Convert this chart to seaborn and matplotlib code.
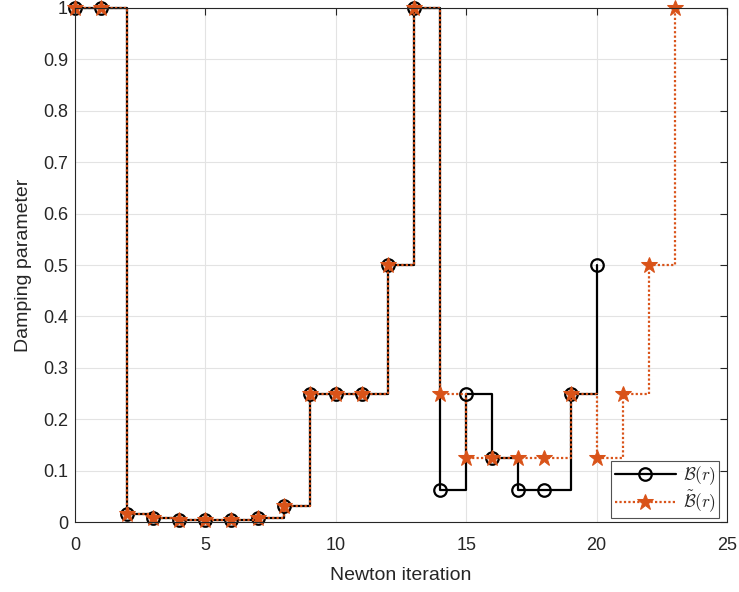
import pandas as pd
import matplotlib.pyplot as plt
import seaborn as sns

iter_b = list(range(0, 21))
damp_b = [1, 1, 0.015625, 0.0078125, 0.00390625, 0.00390625, 0.00390625,
          0.0078125, 0.03125, 0.25, 0.25, 0.25, 0.5, 1,
          0.0625, 0.25, 0.125, 0.0625, 0.0625, 0.25, 0.5]

iter_bt = list(range(0, 24))
damp_bt = [1, 1, 0.015625, 0.0078125, 0.00390625, 0.00390625, 0.00390625,
           0.0078125, 0.03125, 0.25, 0.25, 0.25, 0.5, 1,
           0.25, 0.125, 0.125, 0.125, 0.125, 0.25, 0.125, 0.25, 0.5, 1]

sns.set_style("white")
plt.rcParams['font.family'] = ['Liberation Sans', 'DejaVu Sans']
plt.rcParams['mathtext.fontset'] = 'cm'

orange = "#D95319"

fig = plt.figure(figsize=(7.39, 5.92), dpi=100)
ax = fig.add_axes([0.1015, 0.1182, 0.8823, 0.8683])

df_b = pd.DataFrame({"it": iter_b, "d": damp_b})
df_bt = pd.DataFrame({"it": iter_bt, "d": damp_bt})

sns.lineplot(data=df_b, x="it", y="d", ax=ax, drawstyle="steps-post",
             color="black", linewidth=1.6, marker="o", markersize=9,
             markerfacecolor="none", markeredgecolor="black",
             markeredgewidth=1.6, label=r"$\mathcal{B}(r)$", clip_on=False)
sns.lineplot(data=df_bt, x="it", y="d", ax=ax, drawstyle="steps-post",
             color=orange, linewidth=1.6, linestyle=(0, (1, 1)), marker="*",
             markersize=12, markerfacecolor=orange, markeredgecolor=orange,
             label=r"$\tilde{\mathcal{B}}(r)$", clip_on=False)

ax.set_xlim(0, 25)
ax.set_ylim(0, 1)
ax.set_xticks([0, 5, 10, 15, 20, 25])
ax.set_yticks([i / 10 for i in range(11)])
ax.set_yticklabels(["0", "0.1", "0.2", "0.3", "0.4", "0.5", "0.6", "0.7",
                    "0.8", "0.9", "1"])
ax.grid(True, color="#e3e3e3", linewidth=0.8)
ax.set_axisbelow(True)
for s in ax.spines.values():
    s.set_color("#262626")
    s.set_linewidth(0.8)
ax.tick_params(direction="in", length=5, labelsize=13, colors="#262626",
               top=True, right=True, labeltop=False, labelright=False)
ax.tick_params(axis="x", pad=11)
ax.tick_params(axis="y", pad=5)
ax.set_xlabel("Newton iteration", fontsize=14, color="#262626", labelpad=9)
ax.set_ylabel("Damping parameter", fontsize=14, color="#262626", labelpad=8)

leg = ax.legend(loc="lower right", fontsize=12.5, frameon=True, fancybox=False,
                edgecolor="#262626", borderpad=0.2, labelspacing=0.1,
                handlelength=3.5, handletextpad=0.4,
                bbox_to_anchor=(0.988, 0.008), borderaxespad=0)
leg.get_frame().set_linewidth(0.8)

fig.savefig("out.png", dpi=100)
